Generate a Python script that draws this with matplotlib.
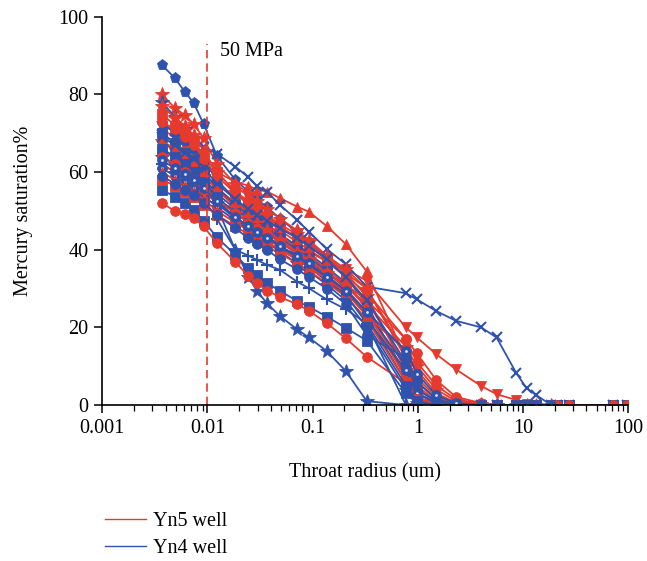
import matplotlib
matplotlib.use("Agg")
import matplotlib.pyplot as plt
from matplotlib.lines import Line2D

plt.rcParams['font.family'] = ['Liberation Serif', 'DejaVu Serif']

RED = '#e63a2e'
BLUE = '#2f52ad'

# throat radius (um) for each injection step
radius = [0.0037, 0.0049, 0.0061, 0.0074, 0.0092, 0.0123, 0.0184, 0.0245,
          0.0294, 0.0368, 0.049, 0.071, 0.092, 0.136, 0.206, 0.327,
          0.77, 0.98, 1.5, 2.3, 4.0, 5.6, 8.6, 10.8, 13.3, 18.5, 21, 27.5, 71, 97]

# Yn5 well samples: (marker, mercury saturation %)
yn5 = [
    ('*', [80, 76.5, 74.7, 72.4, 68.7, 62, 57, 54.5, 52.5, 50.5, 48, 45, 42.5, 38.5, 34, 28,
           9, 3, 0.8, 0.2, 0, 0]),
    ('^', [71, 69, 67, 65, 62, 60, 57.5, 56.5, 55.5, 55, 53.3, 51.1, 49.8, 46.1, 41.5, 34.4,
           12, 5, 1, 0.3, 0, 0, 0, 0, 0, 0]),
    ('v', [64, 62, 60.5, 59, 56.5, 53, 50, 48, 46.5, 45, 43, 41, 39.5, 37, 35, 32,
           20, 17.4, 13.1, 9.2, 4.9, 2.8, 1.3, 0.3, 0, 0, 0, 0]),
    ('o', [52, 50, 49.2, 48.3, 46, 41.7, 36.9, 33.2, 31.5, 29.5, 27.8, 26.0, 24.3, 21.1, 17.2, 12.4,
           5.6, 1.5, 0.3, 0, 0, 0]),
    ('o', [66, 63.5, 61.5, 60, 57.5, 55, 52, 50, 49, 47.5, 45, 42, 40, 37, 33, 29,
           17, 13.3, 6.4, 2.1, 0.5, 0, 0, 0, 0, 0, 0, 0, 0, 0]),
    ('s', [75, 72, 70, 68, 64, 60, 55, 52, 50.5, 48.5, 46, 43, 41, 37.5, 33, 27,
           10, 4, 1, 0, 0, 0, 0, 0, 0, 0, 0, 0, 0, 0]),
    ('o', [70, 67.5, 65.5, 63, 60, 56, 52, 49.5, 48, 46, 43.5, 40.5, 38.5, 35, 31, 25,
           8, 3, 0.5, 0, 0, 0]),
    ('^', [62, 60, 58.5, 57, 55, 52, 48.5, 46, 44.5, 43, 40.5, 38, 36, 33, 29.5, 24,
           7, 2, 0.3, 0, 0, 0]),
    ('*', [68, 66, 64, 62, 59, 55.5, 51, 48.5, 47, 45, 42.5, 39.5, 37.5, 34, 30.5, 26,
           15, 10, 4, 1, 0.2, 0]),
    ('s', [58, 56.5, 55, 53.5, 51.5, 49, 46, 44, 42.5, 41, 39, 36.5, 34.5, 31.5, 28, 22,
           6, 1.5, 0.2, 0, 0, 0]),
    ('o', [73, 71, 69, 67, 63.5, 59, 54.5, 52, 50.5, 48.5, 46, 43, 41, 38, 34, 30,
           12, 7, 2, 0.5, 0, 0, 0, 0, 0, 0, 0, 0, 0, 0]),
    ('^', [60, 58, 56.5, 55, 53, 50, 47, 45, 43.5, 42, 40, 37.5, 35.5, 32.5, 29, 23,
           14, 9, 3, 0.6, 0, 0, 0]),
    ('o', [64, 62, 60, 58, 55.5, 52.5, 49.5, 47, 45.5, 44, 42, 39, 37, 34, 31, 27,
           17, 11, 5, 1.5, 0.3, 0]),
    ('*', [77, 74, 72, 69.5, 65.5, 60, 55, 52.5, 51, 49, 46.5, 44, 42, 38.5, 35, 30,
           13, 6, 1.5, 0.3, 0, 0, 0, 0, 0, 0]),
]

# Yn4 well samples; 'od' = circle with a white centre dot
yn4 = [
    ('p', [87.6, 84.2, 80.7, 77.8, 72.4, 64.2, 58, 55, 53, 51, 48, 44.5, 42, 38, 33, 26,
           7, 1.5, 0.2, 0, 0, 0]),
    ('*', [78, 74.3, 71, 67, 60, 51, 40, 33.1, 29.5, 26.2, 22.9, 19.5, 17.4, 13.9, 8.8, 1.0,
           0, 0, 0, 0]),
    ('s', [55.4, 53.7, 52.1, 50.3, 47.4, 43.2, 38.7, 35.2, 33.5, 31.4, 29.4, 26.8, 25.3, 22.8, 19.9, 16.6,
           3, 0.5, 0, 0, 0]),
    ('x', [72, 70.5, 69, 68, 66.5, 64.7, 61.4, 58.7, 56.4, 55, 51.5, 47.7, 44.7, 40.2, 36.3, 30.5,
           28.8, 27.2, 24.2, 21.7, 20.0, 17.4, 8.3, 4.3, 2.6, 0, 0, 0, 0, 0]),
    ('+', [62, 60, 58, 56.5, 53, 48, 40, 38.5, 37.4, 36.1, 34.8, 31.8, 30.1, 27.2, 24.7, 21,
           0, 0, 0, 0]),
    ('o', [73, 70, 68, 66, 63, 58, 53, 50, 48.5, 46.5, 44, 41, 39, 35.5, 31.5, 25,
           8, 2, 0.3, 0, 0, 0, 0, 0, 0, 0, 0, 0, 0, 0]),
    ('od', [68, 65.5, 63.5, 61.5, 58.5, 54.5, 50.5, 48, 46.5, 44.5, 42, 39, 37, 33.5, 29.5, 23,
            6, 1, 0, 0, 0, 0, 0, 0, 0, 0]),
    ('s', [70, 67.5, 65, 63, 60, 56, 51.5, 49, 47.5, 45.5, 43, 40, 38, 34.5, 30, 24,
           10, 3, 0.5, 0, 0, 0, 0, 0, 0, 0, 0, 0, 0, 0]),
    ('*', [64, 62, 60, 58, 55.5, 52, 48, 45.5, 44, 42, 39.5, 36.5, 34.5, 31, 27, 20,
           4, 0.5, 0, 0, 0, 0]),
    ('od', [61, 59, 57.5, 56, 54, 51, 47.5, 45, 43.5, 42, 40, 37.5, 35.5, 32, 28, 22,
            9, 3, 0.5, 0, 0, 0, 0]),
    ('s', [66, 64, 62, 60, 57.5, 53.5, 49.5, 47, 45.5, 43.5, 41, 38, 36, 32.5, 28.5, 21,
           5, 1, 0, 0, 0, 0, 0, 0, 0, 0, 0, 0, 0, 0]),
    ('o', [59, 57, 55.5, 54, 52, 49, 45.5, 43, 41.5, 40, 37.5, 35, 33, 30, 26, 18,
           12, 6, 1.5, 0.2, 0, 0]),
    ('x', [69, 67, 65, 63.5, 61, 57, 53, 50.5, 49, 47.5, 45.5, 43, 41, 37.5, 33, 27,
           11, 4, 1, 0, 0, 0]),
    ('od', [63, 61, 59.5, 58, 56, 52.5, 48.5, 46, 44.5, 43, 41, 38.5, 36.5, 33, 29.5, 24,
            14, 8, 2.5, 0.5, 0, 0, 0, 0, 0, 0]),
]

fig = plt.figure(figsize=(6.47, 5.61), dpi=100)
ax = fig.add_axes([0.158, 0.278, 0.813, 0.692])


def draw(sample, color):
    marker, sat = sample
    x = radius[:len(sat)]
    m = 'o' if marker == 'od' else marker
    size = {'*': 10, 'x': 7.5, '+': 9, 'p': 8, '^': 7.5, 'v': 7.5}.get(m, 7)
    ax.plot(x, sat, color=color, lw=1.3, marker=m, ms=size,
            mew=1.5 if m in 'x+' else 0.6, mec=color, mfc=color)
    if marker == 'od':
        ax.plot(x, sat, ls='none', marker='o', ms=2, mfc='#dfe4f5', mec='none')


for b, r in zip(yn4[:-3], yn5[:-3]):
    draw(b, BLUE)
    draw(r, RED)
for r in yn5[-3:]:
    draw(r, RED)
for b in yn4[-3:]:
    draw(b, BLUE)

# 50 MPa injection pressure
ax.plot([0.01, 0.01], [0, 93], color=RED, lw=1.2, ls=(0, (5, 3)))
ax.text(0.0133, 91, '50 MPa', fontsize=14.5, va='center', ha='left')

ax.set_xscale('log')
ax.set_xlim(0.001, 100)
ax.set_ylim(0, 100)
ax.set_yticks([0, 20, 40, 60, 80, 100])
ax.set_xticks([0.001, 0.01, 0.1, 1, 10, 100])
ax.set_xticklabels(['0.001', '0.01', '0.1', '1', '10', '100'])
for side in ('top', 'right'):
    ax.spines[side].set_visible(False)
ax.spines['left'].set_linewidth(1.2)
ax.spines['bottom'].set_linewidth(1.2)
ax.tick_params(labelsize=14.5, width=1.1, length=6, pad=4)
ax.tick_params(which='minor', length=4, width=0.9)

ax.set_xlabel('Throat radius (um)', fontsize=14.5, labelpad=18)
ax.set_ylabel('Mercury saturation%', fontsize=14.5, labelpad=18)

handles = [Line2D([], [], color=RED, lw=1.0), Line2D([], [], color=BLUE, lw=1.0)]
fig.legend(handles, ['Yn5 well', 'Yn4 well'], loc='upper left',
           bbox_to_anchor=(0.135, 0.12), frameon=False, fontsize=14.5,
           handlelength=2.0, handletextpad=0.35, labelspacing=0.4)

fig.savefig('out.png', dpi=100)
